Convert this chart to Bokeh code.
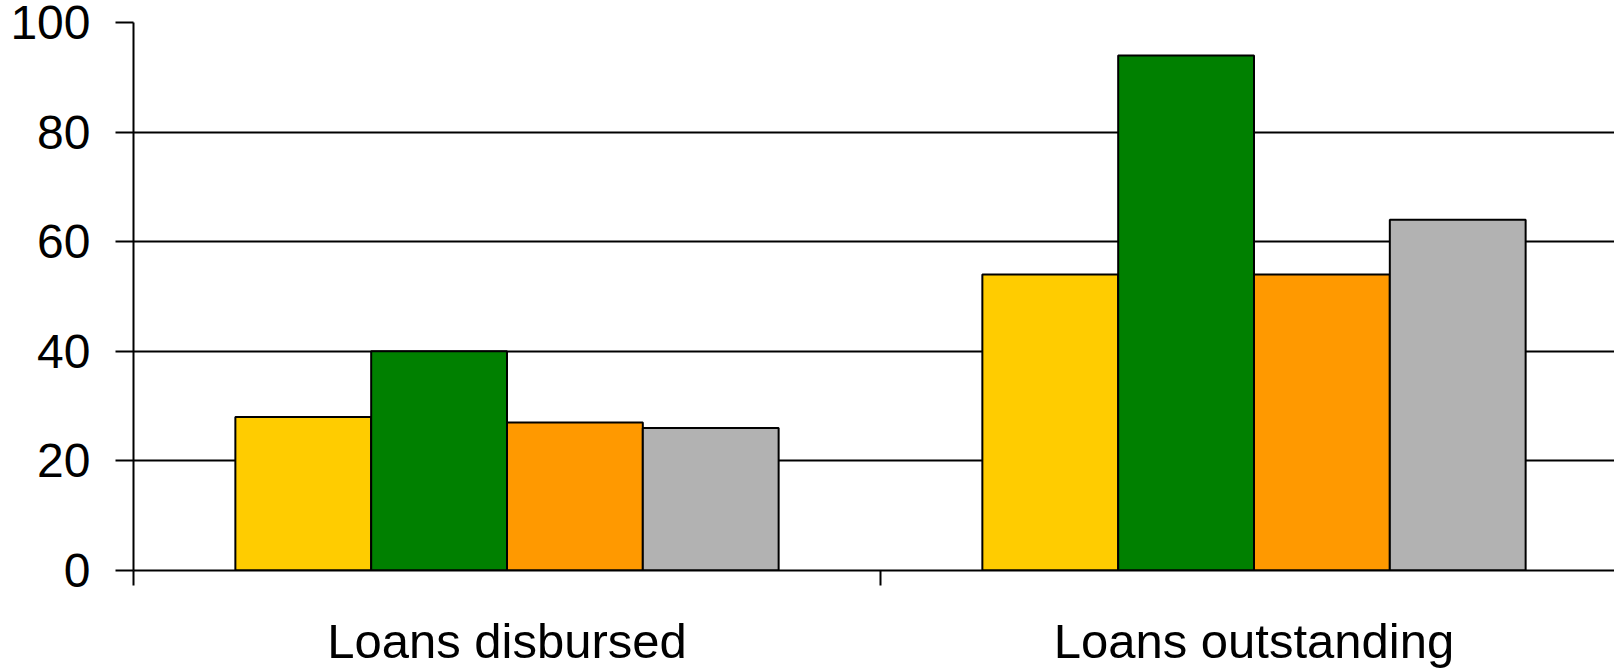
from bokeh.plotting import figure
from bokeh.models import ColumnDataSource, FixedTicker, Range1d
from bokeh.transform import dodge
from bokeh.embed import file_html
from bokeh.resources import INLINE

# Chart data
categories = ["Loans disbursed", "Loans outstanding"]
series_yellow = [28, 54]
series_green = [40, 94]
series_orange = [27, 54]
series_gray = [26, 64]
y_ticks = [0, 20, 40, 60, 80, 100]

colors = ["#FFCC00", "#008000", "#FF9900", "#B2B2B2"]
series = [series_yellow, series_green, series_orange, series_gray]

FONT = "Liberation Sans"
bar_w = 2 / 11
centers = [i + 0.5 for i in range(len(categories))]

p = figure(
    width=1614, height=670,
    x_range=Range1d(0, 1.9826), y_range=Range1d(0, 100),
    output_backend="svg", toolbar_location=None,
    min_border_left=133, min_border_right=0,
    min_border_top=22, min_border_bottom=99,
)
p.outline_line_color = None
p.background_fill_color = "white"
p.border_fill_color = "white"

for k, (vals, col) in enumerate(zip(series, colors)):
    src = ColumnDataSource(dict(x=centers, top=vals))
    p.vbar(x=dodge("x", (k - 1.5) * bar_w, range=p.x_range), top="top",
           width=bar_w, bottom=0, source=src,
           fill_color=col, line_color="black", line_width=2)

# x axis: labels at category centres, tick marks at category boundaries
p.xaxis.ticker = FixedTicker(ticks=centers, minor_ticks=[0, 1, 2])
p.xaxis.major_label_overrides = {c: lab for c, lab in zip(centers, categories)}
p.xaxis.major_tick_out = 0
p.xaxis.major_tick_in = 0
p.xaxis.minor_tick_out = 15
p.xaxis.minor_tick_in = 0
p.xaxis.minor_tick_line_color = "black"
p.xaxis.minor_tick_line_width = 2
p.xaxis.axis_line_color = "black"
p.xaxis.axis_line_width = 2
p.xaxis.major_label_text_font = FONT
p.xaxis.major_label_text_font_size = "49px"
p.xaxis.major_label_text_color = "black"
p.xaxis.major_label_standoff = 28

# y axis
p.yaxis.ticker = FixedTicker(ticks=y_ticks)
p.yaxis.major_tick_out = 18
p.yaxis.major_tick_in = 0
p.yaxis.minor_tick_line_color = None
p.yaxis.major_tick_line_color = "black"
p.yaxis.major_tick_line_width = 2
p.yaxis.axis_line_color = "black"
p.yaxis.axis_line_width = 2
p.yaxis.major_label_text_font = FONT
p.yaxis.major_label_text_font_size = "48px"
p.yaxis.major_label_text_color = "black"
p.yaxis.major_label_standoff = 25

p.xgrid.grid_line_color = None
p.ygrid.ticker = FixedTicker(ticks=y_ticks)
p.ygrid.grid_line_color = "black"
p.ygrid.grid_line_width = 2
p.ygrid.grid_line_alpha = 1.0

open("out.html", "w").write(file_html(p, INLINE))
